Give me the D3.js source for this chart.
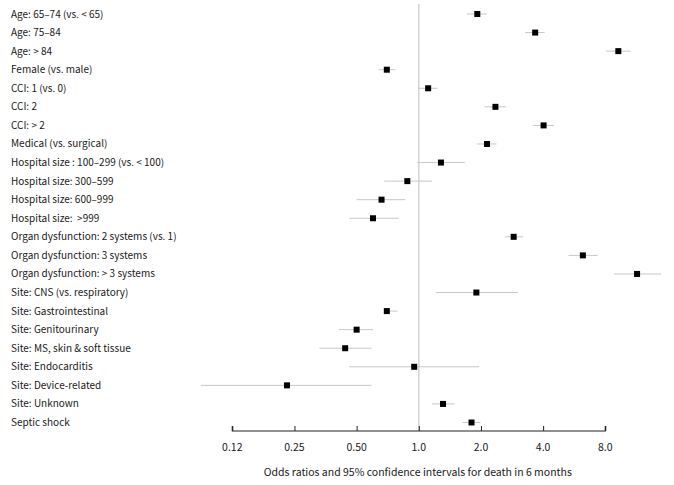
<!DOCTYPE html>
<html>
<head>
<meta charset="utf-8">
<script src="https://cdn.jsdelivr.net/npm/d3@7"></script>
<style>
html,body{margin:0;padding:0;background:#fff;}
svg{display:block;}
text{font-family:"Noto Sans CJK KR","Noto Sans",sans-serif;fill:#1a1a1a;white-space:pre;}
</style>
</head>
<body>
<svg id="chart" width="674" height="485"></svg>
<script>
const labels = [
  "Age: 65\u201374 (vs. < 65)",
  "Age: 75\u201384",
  "Age: > 84",
  "Female (vs. male)",
  "CCI: 1 (vs. 0)",
  "CCI: 2",
  "CCI: > 2",
  "Medical (vs. surgical)",
  "Hospital size : 100\u2013299 (vs. < 100)",
  "Hospital size: 300\u2013599",
  "Hospital size: 600\u2013999",
  "Hospital size:  >999",
  "Organ dysfunction: 2 systems (vs. 1)",
  "Organ dysfunction: 3 systems",
  "Organ dysfunction: > 3 systems",
  "Site: CNS (vs. respiratory)",
  "Site: Gastrointestinal",
  "Site: Genitourinary",
  "Site: MS, skin & soft tissue",
  "Site: Endocarditis",
  "Site: Device-related",
  "Site: Unknown",
  "Septic shock"
];
const oddsRatio = [1.92, 3.66, 9.25, 0.70, 1.11, 2.35, 4.02, 2.14, 1.28, 0.88, 0.66, 0.60, 2.88, 6.23, 11.4, 1.90, 0.70, 0.50, 0.44, 0.95, 0.23, 1.31, 1.80];
const ciLow   = [1.71, 3.27, 8.06, 0.64, 0.99, 2.08, 3.57, 1.91, 0.98, 0.68, 0.50, 0.46, 2.61, 5.31, 8.83, 1.21, 0.69, 0.41, 0.33, 0.46, 0.088, 1.16, 1.63];
const ciHigh  = [2.14, 4.07, 10.6, 0.77, 1.23, 2.64, 4.52, 2.38, 1.67, 1.16, 0.86, 0.80, 3.20, 7.35, 14.9, 3.02, 0.79, 0.60, 0.59, 1.96, 0.59, 1.49, 1.99];
const tickValues = [0.125, 0.25, 0.5, 1, 2, 4, 8];
const tickLabels = ["0.12", "0.25", "0.50", "1.0", "2.0", "4.0", "8.0"];
const axisTitle = "Odds ratios and 95% confidence intervals for death in 6 months";

const svg = d3.select("#chart");
const x = d3.scaleLog().base(2).domain([0.125, 8]).range([232.3, 605.3]);
const y = d3.scalePoint().domain(d3.range(labels.length)).range([14, 422.5]);
const axisY = 431;

// reference line at OR = 1
svg.append("line")
  .attr("x1", x(1)).attr("x2", x(1))
  .attr("y1", 4).attr("y2", axisY)
  .attr("stroke", "#d4d4d4").attr("stroke-width", 1.5);

// labels
svg.append("g").selectAll("text").data(labels).join("text")
  .attr("x", 11).attr("y", (d, i) => y(i))
  .attr("dy", "0.35em")
  .attr("font-size", 10)
  .text(d => d);

// CI lines
svg.append("g").selectAll("line").data(labels).join("line")
  .attr("x1", (d, i) => x(ciLow[i])).attr("x2", (d, i) => x(ciHigh[i]))
  .attr("y1", (d, i) => y(i)).attr("y2", (d, i) => y(i))
  .attr("stroke", "#c8c8c8").attr("stroke-width", 1);

// point markers
const s = 6;
svg.append("g").selectAll("rect").data(labels).join("rect")
  .attr("x", (d, i) => x(oddsRatio[i]) - s / 2)
  .attr("y", (d, i) => y(i) - s / 2)
  .attr("width", s).attr("height", s)
  .attr("fill", "#000");

// axis
const axis = d3.axisTop(x).tickValues(tickValues).tickSize(5).tickFormat(() => "");
const g = svg.append("g").attr("transform", `translate(0,${axisY})`).call(axis);
g.select(".domain").attr("stroke", "#222").attr("stroke-width", 1.2).attr("d", `M${x(0.125)},-5V0H${x(8)}V-5`);
g.selectAll(".tick line").attr("stroke", "#222");
svg.append("g").selectAll("text").data(tickValues).join("text")
  .attr("x", d => x(d)).attr("y", 447).attr("dy", "0.35em")
  .attr("text-anchor", "middle").attr("font-size", 10.5)
  .text((d, i) => tickLabels[i]);

svg.append("text")
  .attr("x", (x(0.125) + x(8)) / 2 - 1).attr("y", 472).attr("dy", "0.35em")
  .attr("text-anchor", "middle").attr("font-size", 10.5)
  .text(axisTitle);
</script>
</body>
</html>
